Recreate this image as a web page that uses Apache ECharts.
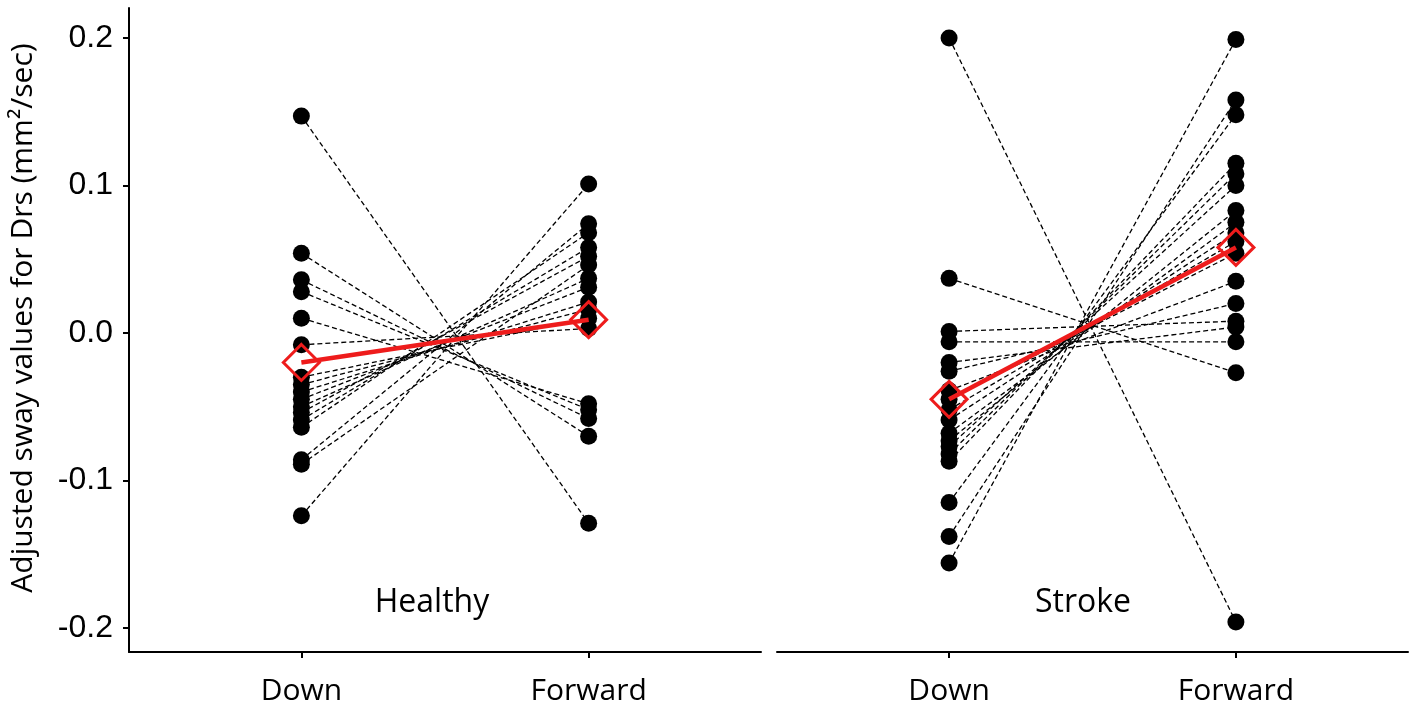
<!DOCTYPE html>
<html>
<head>
<meta charset="utf-8">
<script src="https://cdn.jsdelivr.net/npm/echarts@6/dist/echarts.min.js"></script>
<style>
html,body{margin:0;padding:0;background:#fff;}
#chart{width:1417px;height:713px;}
</style>
</head>
<body>
<div id="chart"></div>
<script>
const categories = ['Down', 'Forward'];
const yTicks = [-0.2, -0.1, 0.0, 0.1, 0.2];
const panels = ['Healthy', 'Stroke'];

const healthyDown    = [0.147, 0.054, 0.036, 0.028, 0.010, -0.008, -0.030, -0.035, -0.040, -0.045, -0.050, -0.054, -0.059, -0.064, -0.086, -0.089, -0.124];
const healthyForward = [-0.129, -0.070, -0.058, -0.052, -0.048, 0.003, 0.010, 0.016, 0.021, 0.031, 0.037, 0.052, 0.058, 0.068, 0.074, 0.046, 0.101];

const strokeDown    = [0.200, 0.037, 0.001, -0.006, -0.020, -0.026, -0.039, -0.045, -0.052, -0.059, -0.068, -0.073, -0.077, -0.082, -0.087, -0.115, -0.138, -0.156];
const strokeForward = [-0.196, -0.027, 0.008, -0.006, 0.004, 0.020, 0.035, 0.054, 0.062, 0.068, 0.075, 0.083, 0.100, 0.108, 0.115, 0.148, 0.158, 0.199];

const healthyMean = [-0.020, 0.009];
const strokeMean  = [-0.045, 0.058];

const groups = [
  {down: healthyDown, fwd: healthyForward, mean: healthyMean},
  {down: strokeDown, fwd: strokeForward, mean: strokeMean}
];

const RED = '#ee1c1c';
const series = [];
groups.forEach((g, gi) => {
  g.down.forEach((d, i) => {
    series.push({
      type: 'line', xAxisIndex: gi, yAxisIndex: gi, silent: true, z: 2,
      symbol: 'none', animation: false,
      data: [[1, d], [2, g.fwd[i]]],
      lineStyle: {color: '#000', width: 1.3, type: [5, 3]}
    });
  });
  const pts = g.down.map(v => [1, v]).concat(g.fwd.map(v => [2, v]));
  series.push({
    type: 'scatter', xAxisIndex: gi, yAxisIndex: gi, z: 3, silent: true,
    symbol: 'circle', symbolSize: 17, data: pts,
    itemStyle: {color: '#000', opacity: 1}
  });
  series.push({
    type: 'line', xAxisIndex: gi, yAxisIndex: gi, z: 4, silent: true,
    symbol: 'diamond', symbolSize: 36, showAllSymbol: true,
    data: g.mean.map((v, k) => [k + 1, v]),
    lineStyle: {color: RED, width: 4.5},
    itemStyle: {color: 'rgba(0,0,0,0)', borderColor: RED, borderWidth: 3}
  });
});

const yMin = -0.2163, yMax = 0.2203;
function xAxisCfg(gi) {
  return {
    type: 'value', gridIndex: gi, min: 0.4, max: 2.6,
    splitLine: {show: false},
    axisLine: {show: true, onZero: false, lineStyle: {color: '#000', width: 2}},
    axisTick: {show: true, length: 6, customValues: [1, 2], lineStyle: {color: '#000', width: 2}},
    axisLabel: {
      customValues: [1, 2], margin: 24,
      formatter: v => categories[Math.round(v) - 1] || '',
      fontFamily: 'Open Sans', fontSize: 30, color: '#000'
    }
  };
}
function yAxisCfg(gi) {
  const show = gi === 0;
  return {
    type: 'value', gridIndex: gi, min: yMin, max: yMax,
    splitLine: {show: false},
    axisLine: {show: show, lineStyle: {color: '#000', width: 2}},
    axisTick: {show: show, length: 6, customValues: yTicks, lineStyle: {color: '#000', width: 2}},
    axisLabel: {
      show: show, customValues: yTicks, margin: 16,
      formatter: v => v.toFixed(1),
      fontFamily: 'Liberation Sans', fontSize: 32, color: '#000'
    }
  };
}

const option = {
  animation: false,
  backgroundColor: '#fff',
  grid: [
    {left: 129, width: 632, top: 8, height: 644},
    {left: 777, width: 631, top: 8, height: 644}
  ],
  xAxis: [xAxisCfg(0), xAxisCfg(1)],
  yAxis: [yAxisCfg(0), yAxisCfg(1)],
  graphic: [
    {type: 'text', x: 23, y: 318, rotation: Math.PI / 2,
     style: {text: 'Adjusted sway values for Drs (mm²/sec)', fontFamily: 'Open Sans', fontSize: 30,
             fill: '#000', align: 'center', verticalAlign: 'middle'}},
    {type: 'text', x: 432, y: 603,
     style: {text: panels[0], fontFamily: 'Open Sans', fontSize: 32, fill: '#000', align: 'center', verticalAlign: 'middle'}},
    {type: 'text', x: 1083, y: 603,
     style: {text: panels[1], fontFamily: 'Open Sans', fontSize: 32, fill: '#000', align: 'center', verticalAlign: 'middle'}}
  ],
  series: series
};

const chart = echarts.init(document.getElementById('chart'), null, {renderer: 'canvas'});
chart.setOption(option);
</script>
</body>
</html>
